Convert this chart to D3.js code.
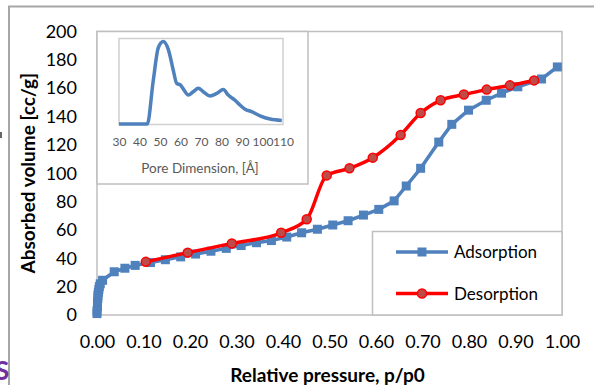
<!DOCTYPE html>
<html>
<head>
<meta charset="utf-8">
<script src="https://cdn.jsdelivr.net/npm/d3@7"></script>
<style>
  html, body { margin: 0; padding: 0; background: #fff; }
  svg { display: block; font-family: Lato, "Open Sans", sans-serif; }
</style>
</head>
<body>
<div id="chart"></div>
<script>
// Isotherm data: relative pressure p/p0 vs absorbed volume [cc/g]
var adsP = [0.000, 0.000, 0.001, 0.001, 0.002, 0.002, 0.003, 0.004, 0.005, 0.007, 0.012,
            0.037, 0.060, 0.082, 0.115, 0.147, 0.180, 0.212, 0.245, 0.278, 0.310, 0.343,
            0.375, 0.408, 0.440, 0.474, 0.507, 0.540, 0.573, 0.606, 0.639, 0.665, 0.696,
            0.735, 0.763, 0.799, 0.837, 0.870, 0.905, 0.956, 0.990];
var adsV = [1, 3, 6, 9, 12, 14, 16, 18, 20, 22, 24.5,
            30.5, 33, 35, 37, 39, 41, 43, 45, 47, 49, 51,
            52.5, 55, 58, 60.5, 63.5, 66.5, 70.5, 74.5, 80.5, 91, 103.5,
            122, 134.5, 144.5, 151.5, 156.5, 161, 166.5, 175];
var desP = [0.105, 0.195, 0.290, 0.396, 0.451, 0.494, 0.543, 0.593, 0.653, 0.696,
            0.739, 0.789, 0.838, 0.888, 0.940];
var desV = [37.5, 44, 50.5, 58, 67.5, 98.5, 103.5, 111, 127, 142.5,
            151.5, 155.5, 159, 162, 165.5];

// Inset: pore size distribution (arbitrary units)
var poreD = [30, 43.8, 46.7, 49.2, 51.6, 54, 56.5, 58.1, 60.1, 61.7, 63.8, 66.2, 68.7,
             71.1, 74.4, 77.7, 80.9, 83.3, 86.6, 89, 91.5, 94.7, 98.8, 103.7, 109.4];
var poreV = [0, 0, 51, 90, 97, 88, 63, 48, 45.5, 40, 34, 38, 42,
             38, 33, 36, 40.5, 34, 28, 22.4, 17.4, 14.6, 9.6, 5.8, 4.2];

var xTicks = [0, 0.1, 0.2, 0.3, 0.4, 0.5, 0.6, 0.7, 0.8, 0.9, 1.0];
var yTicks = [0, 20, 40, 60, 80, 100, 120, 140, 160, 180, 200];
var poreTicks = [30, 40, 50, 60, 70, 80, 90, 100, 110];
var seriesNames = ['Adsorption', 'Desorption'];

var W = 594, H = 385;
var blue = '#4F81BD', red = '#FF0000', redFill = '#BE4B48', frameGray = '#BFBFBF';
var plot = { left: 97, right: 562, top: 31.5, bottom: 315 };

var svg = d3.select('#chart').append('svg').attr('width', W).attr('height', H);
svg.append('rect').attr('width', W).attr('height', H).attr('fill', '#fff');

// outer frame (cropped slide border) and stray marks at the left edge
svg.append('path').attr('d', 'M9,' + H + 'V6.5H' + W)
  .attr('fill', 'none').attr('stroke', '#A6A6A6').attr('stroke-width', 2);
svg.append('rect').attr('x', 0).attr('y', 132).attr('width', 2).attr('height', 6).attr('fill', '#666');
svg.append('text').attr('x', -5).attr('y', 380).attr('fill', '#7030A0')
  .style('font-size', '26px').style('font-weight', 'bold').text('S');

var x = d3.scaleLinear().domain([0, 1]).range([plot.left, plot.right]);
var y = d3.scaleLinear().domain([0, 200]).range([plot.bottom, plot.top]);

// plot area border
svg.append('rect').attr('x', plot.left).attr('y', plot.top)
  .attr('width', plot.right - plot.left).attr('height', plot.bottom - plot.top)
  .attr('fill', 'none').attr('stroke', frameGray).attr('stroke-width', 1.5);

// axes (labels only, no tick marks)
var xAxis = svg.append('g').attr('transform', 'translate(0,' + plot.bottom + ')')
  .call(d3.axisBottom(x).tickValues(xTicks).tickFormat(d3.format('.2f')).tickSize(0).tickPadding(20));
xAxis.select('.domain').remove();
xAxis.selectAll('text').style('font-size', '18px').style('font-family', 'Lato').attr('fill', '#000');

var yAxis = svg.append('g').attr('transform', 'translate(' + plot.left + ',0)')
  .call(d3.axisLeft(y).tickValues(yTicks).tickSize(0).tickPadding(20));
yAxis.select('.domain').remove();
yAxis.selectAll('text').style('font-size', '18px').style('font-family', 'Lato').attr('fill', '#000');

svg.append('text').attr('x', (plot.left + plot.right) / 2 - 2).attr('y', 382)
  .attr('text-anchor', 'middle').style('font-size', '19px').style('font-weight', 'bold')
  .text('Relative pressure, p/p0');
svg.append('text').attr('transform', 'translate(35,' + ((plot.top + plot.bottom) / 2) + ') rotate(-90)')
  .attr('text-anchor', 'middle').style('font-size', '19px').style('font-weight', 'bold')
  .text('Absorbed volume [cc/g]');

// series
var ads = adsP.map(function (p, i) { return [p, adsV[i]]; });
var des = desP.map(function (p, i) { return [p, desV[i]]; });
var line = d3.line().x(function (d) { return x(d[0]); }).y(function (d) { return y(d[1]); });

svg.append('path').datum(ads).attr('d', line)
  .attr('fill', 'none').attr('stroke', blue).attr('stroke-width', 3.5).attr('stroke-linejoin', 'round');
svg.selectAll('.ads-pt').data(ads).enter().append('rect').attr('class', 'ads-pt')
  .attr('x', function (d) { return x(d[0]) - 4.5; })
  .attr('y', function (d) { return y(d[1]) - 4.5; })
  .attr('width', 9).attr('height', 9).attr('fill', blue);

svg.append('path').datum(des).attr('d', line.curve(d3.curveMonotoneX))
  .attr('fill', 'none').attr('stroke', red).attr('stroke-width', 3.5).attr('stroke-linejoin', 'round');
svg.selectAll('.des-pt').data(des).enter().append('circle').attr('class', 'des-pt')
  .attr('cx', function (d) { return x(d[0]); })
  .attr('cy', function (d) { return y(d[1]); })
  .attr('r', 4.5).attr('fill', redFill).attr('stroke', red).attr('stroke-width', 1.5);

// legend
var lg = svg.append('g');
lg.append('rect').attr('x', 372.5).attr('y', 231.5).attr('width', plot.right - 372.5).attr('height', plot.bottom - 231.5)
  .attr('fill', '#fff').attr('stroke', frameGray).attr('stroke-width', 1.5);
seriesNames.forEach(function (name, i) {
  var ly = 252 + i * 41.5;
  var c = i === 0 ? blue : red;
  lg.append('line').attr('x1', 396).attr('x2', 448).attr('y1', ly).attr('y2', ly)
    .attr('stroke', c).attr('stroke-width', 3.5);
  if (i === 0) {
    lg.append('rect').attr('x', 417.5).attr('y', ly - 4.5).attr('width', 9).attr('height', 9).attr('fill', blue);
  } else {
    lg.append('circle').attr('cx', 422).attr('cy', ly).attr('r', 4.5)
      .attr('fill', redFill).attr('stroke', red).attr('stroke-width', 1.5);
  }
  lg.append('text').attr('x', 454).attr('y', ly + 6).style('font-size', '17px').attr('fill', '#000').text(name);
});

// inset: pore dimension distribution
var inset = svg.append('g');
inset.append('rect').attr('x', 97).attr('y', 31.5).attr('width', 211).attr('height', 152.5)
  .attr('fill', '#fff').attr('stroke', frameGray).attr('stroke-width', 1.5);
var ix = d3.scaleLinear().domain([30, 110]).range([119, 283]);
var iy = d3.scaleLinear().domain([0, 100]).range([124, 39]);
inset.append('rect').attr('x', 119).attr('y', 38.5).attr('width', 164).attr('height', 86)
  .attr('fill', 'none').attr('stroke', '#D0D0D0').attr('stroke-width', 1.5);
var ixAxis = inset.append('g').attr('transform', 'translate(0,124)')
  .call(d3.axisBottom(ix).tickValues(poreTicks).tickFormat(d3.format('d')).tickSize(0).tickPadding(13));
ixAxis.select('.domain').remove();
ixAxis.selectAll('text').style('font-size', '12px').style('font-family', 'Lato').attr('fill', '#595959');
inset.append('text').attr('x', 200).attr('y', 173).attr('text-anchor', 'middle')
  .style('font-size', '13.5px').attr('fill', '#595959').text('Pore Dimension, [Å]');
var pore = poreD.map(function (d, i) { return [d, poreV[i]]; });
inset.append('path').datum(pore)
  .attr('d', d3.line().curve(d3.curveMonotoneX).x(function (d) { return ix(d[0]); }).y(function (d) { return iy(d[1]); }))
  .attr('fill', 'none').attr('stroke', blue).attr('stroke-width', 3.5).attr('stroke-linejoin', 'round');
</script>
</body>
</html>
